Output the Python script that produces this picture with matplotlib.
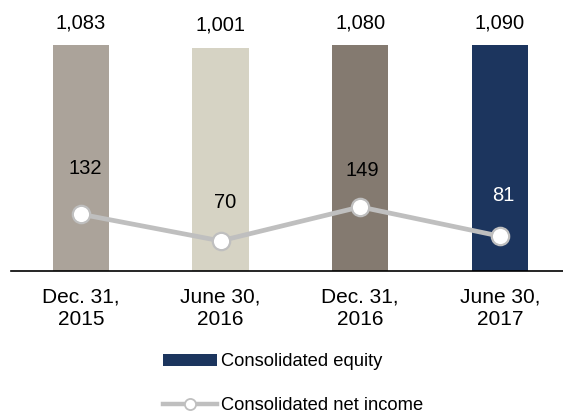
import matplotlib
matplotlib.use("Agg")
import matplotlib.pyplot as plt
from matplotlib.patches import Patch
from matplotlib.lines import Line2D

categories = ["Dec. 31,\n2015", "June 30,\n2016", "Dec. 31,\n2016", "June 30,\n2017"]
equity = [1083, 1001, 1080, 1090]
net_income = [132, 70, 149, 81]
equity_labels = ["1,083", "1,001", "1,080", "1,090"]

bar_colors = ["#ABA39A", "#D6D3C4", "#847A70", "#1C355E"]
income_label_colors = ["#000000", "#000000", "#000000", "#FFFFFF"]
income_label_offsets_px = [(4, 46), (5, 38), (2, 36), (3, 41)]
line_color = "#BFBFBF"

plt.rcParams['font.family'] = ['Liberation Sans', 'DejaVu Sans']

fig = plt.figure(figsize=(5.63, 4.12), dpi=100)
ax = fig.add_axes([11/563, 141/412, 552/563, 271/412])

x = list(range(len(categories)))
floor = -6935
ax.bar(x, [v - floor for v in equity], bottom=floor, width=0.404, color=bar_colors, zorder=1)
ax.set_ylim(floor, 2691)

for xi, v, lab in zip(x, equity, equity_labels):
    ax.annotate(lab, (xi, v), xytext=(0, 16), textcoords="offset points",
                ha="center", va="center", fontsize=14.5, color="#000000")

ax2 = ax.twinx()
ax2.plot(x, net_income, color=line_color, lw=3.4, marker="o", markersize=12.5,
         markerfacecolor="white", markeredgecolor=line_color, markeredgewidth=1.6, zorder=3)
ax2.set_ylim(0, 630)
for xi, v, c, (dx, dy) in zip(x, net_income, income_label_colors, income_label_offsets_px):
    ax2.annotate(str(v), (xi, v), xytext=(dx * 0.72, dy * 0.72), textcoords="offset points",
                 ha="center", va="center", fontsize=14.5, color=c)

ax.set_xlim(-0.5, 3.452)
ax2.set_xlim(-0.5, 3.452)

for a in (ax, ax2):
    for s in ("top", "right", "left"):
        a.spines[s].set_visible(False)
    a.set_yticks([])
ax2.spines["bottom"].set_visible(False)
ax.spines["bottom"].set_color("#000000")
ax.spines["bottom"].set_linewidth(1.2)

ax.set_xticks(x)
ax.set_xticklabels(categories, fontsize=15)
ax.tick_params(axis="x", length=0, pad=12)

handles = [
    Patch(facecolor="#1C355E", edgecolor="none", label="Consolidated equity"),
    Line2D([0], [0], color=line_color, lw=3.2, marker="o", markersize=8,
           markerfacecolor="white", markeredgecolor=line_color, markeredgewidth=1.3,
           label="Consolidated net income"),
]
fig.legend(handles=handles, loc="center left", bbox_to_anchor=(163/563, 28.5/412),
           frameon=False, fontsize=13.2, handlelength=2.95, handleheight=0.55,
           handletextpad=0.22, labelspacing=1.42, borderpad=0, borderaxespad=0)

fig.savefig("out.png", dpi=100)
